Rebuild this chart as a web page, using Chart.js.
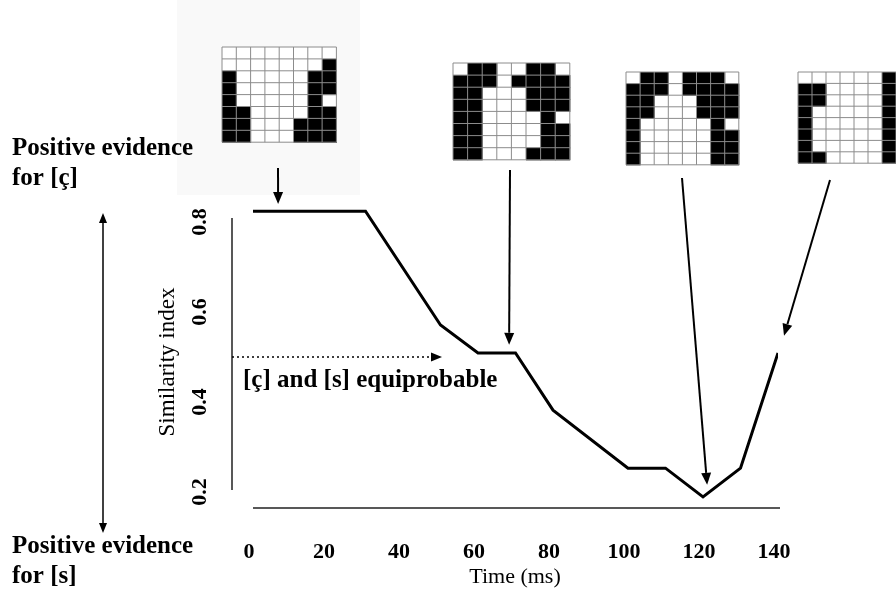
<!DOCTYPE html>
<html>
<head>
<meta charset="utf-8">
<script src="https://cdn.jsdelivr.net/npm/chart.js@4.4.1/dist/chart.umd.min.js"></script>
<style>
  html, body { margin: 0; padding: 0; background: #fff; }
  #wrap { width: 896px; height: 594px; position: relative; }
</style>
</head>
<body>
<div id="wrap"><canvas id="simChart"></canvas></div>
<script>
// corners of the similarity curve: time (ms) and similarity index
const timeMs = [0, 30, 50, 60, 70, 80, 100, 110, 120, 130, 140];
const similarity = [0.824, 0.824, 0.571, 0.509, 0.509, 0.382, 0.253, 0.253, 0.189, 0.253, 0.509];
const xTicks = [0, 20, 40, 60, 80, 100, 120, 140];
const yTicks = [0.2, 0.4, 0.6, 0.8];
const equiprobableLevel = 0.5;

// where the arrows from the four grids land, in data units
const arrowTipsMs = [6.7, 68.3, 121.1, 141.6];
const arrowTipsSim = [0.84, 0.527, 0.216, 0.547];

// the 8x8 grids above the curve, 1 = black cell
const grid1 = ['00000000', '00000001', '10000011', '10000011', '10000010', '11000011', '11000111', '11000111'];
const grid2 = ['01100110', '11101111', '11000111', '11000111', '11000010', '11000011', '11000011', '11000111'];
const grid3 = ['01101110', '11101111', '11000111', '11000111', '10000010', '10000011', '10000011', '10000011'];
const grid4 = ['00000010', '11000010', '11000010', '10000010', '10000010', '10000010', '10000010', '11000010'];

const SERIF = '"Liberation Serif", "DejaVu Serif", serif';

function drawGrid(ctx, rows, x, y, cw, ch) {
    const n = rows[0].length;
    ctx.fillStyle = '#fff';
    ctx.fillRect(x, y, n * cw, rows.length * ch);
    ctx.fillStyle = '#000';
    rows.forEach((row, r) => {
        for (let c = 0; c < n; c++) {
            if (row[c] === '1') ctx.fillRect(x + c * cw, y + r * ch, cw + 0.5, ch + 0.5);
        }
    });
    ctx.strokeStyle = '#8c8c8c';
    ctx.lineWidth = 1;
    ctx.beginPath();
    for (let c = 0; c <= n; c++) {
        ctx.moveTo(x + c * cw, y);
        ctx.lineTo(x + c * cw, y + rows.length * ch);
    }
    for (let r = 0; r <= rows.length; r++) {
        ctx.moveTo(x, y + r * ch);
        ctx.lineTo(x + n * cw, y + r * ch);
    }
    ctx.stroke();
}

function drawArrow(ctx, x1, y1, x2, y2, opts = {}) {
    const head = opts.head || 11;
    const half = opts.half || 4.5;
    const ang = Math.atan2(y2 - y1, x2 - x1);
    const bx = x2 - head * Math.cos(ang);
    const by = y2 - head * Math.sin(ang);
    ctx.save();
    ctx.strokeStyle = '#000';
    ctx.fillStyle = '#000';
    ctx.lineWidth = opts.width || 2;
    if (opts.dash) ctx.setLineDash(opts.dash);
    ctx.beginPath();
    ctx.moveTo(x1, y1);
    ctx.lineTo(bx, by);
    ctx.stroke();
    ctx.setLineDash([]);
    ctx.beginPath();
    ctx.moveTo(x2, y2);
    ctx.lineTo(bx + half * Math.sin(ang), by - half * Math.cos(ang));
    ctx.lineTo(bx - half * Math.sin(ang), by + half * Math.cos(ang));
    ctx.closePath();
    ctx.fill();
    ctx.restore();
}

function rotatedText(ctx, text, x, y, font) {
    ctx.save();
    ctx.translate(x, y);
    ctx.rotate(-Math.PI / 2);
    ctx.font = font;
    ctx.textAlign = 'center';
    ctx.textBaseline = 'middle';
    ctx.fillText(text, 0, 0);
    ctx.restore();
}

const figurePlugin = {
    id: 'figure',
    beforeDraw(chart) {
        const ctx = chart.ctx;
        ctx.save();
        ctx.fillStyle = '#fff';
        ctx.fillRect(0, 0, chart.width, chart.height);
        // very faint scan background behind the first grid
        ctx.fillStyle = '#f9f9f9';
        ctx.fillRect(177, 0, 183, 195);
        ctx.restore();
    },
    afterDraw(chart) {
        const ctx = chart.ctx;
        const xs = chart.scales.x;
        const ys = chart.scales.y;
        ctx.save();

        drawGrid(ctx, grid1, 222, 47, 14.3, 11.9);
        drawGrid(ctx, grid2, 453, 63, 14.6, 12.1);
        drawGrid(ctx, grid3, 626, 72, 14.1, 11.6);
        drawGrid(ctx, grid4, 798, 72, 14, 11.4);

        // axis lines, drawn apart from the curve as in the figure
        ctx.strokeStyle = '#222';
        ctx.lineWidth = 1.5;
        ctx.beginPath();
        const axisX = xs.left - 21;
        ctx.moveTo(axisX, ys.getPixelForValue(yTicks[yTicks.length - 1]) - 4);
        ctx.lineTo(axisX, ys.getPixelForValue(yTicks[0]) - 2);
        const axisY = ys.bottom - 6.5;
        ctx.moveTo(xs.getPixelForValue(xTicks[0]), axisY);
        ctx.lineTo(xs.getPixelForValue(xTicks[xTicks.length - 1]) + 2, axisY);
        ctx.stroke();

        // y tick labels, rotated
        ctx.fillStyle = '#000';
        yTicks.forEach(v => {
            rotatedText(ctx, v.toFixed(1), 200, ys.getPixelForValue(v), 'bold 22px ' + SERIF);
        });
        rotatedText(ctx, 'Similarity index', 168, 362, '23px ' + SERIF);

        // x axis title
        ctx.font = '22px ' + SERIF;
        ctx.textAlign = 'center';
        ctx.textBaseline = 'alphabetic';
        ctx.fillText('Time (ms)', 515, 583);

        // equiprobable marker
        const eqY = ys.getPixelForValue(equiprobableLevel);
        drawArrow(ctx, axisX, eqY, 442, eqY, { width: 1.5, dash: [2, 3], head: 11, half: 4.5 });
        ctx.font = 'bold 25px ' + SERIF;
        ctx.textAlign = 'left';
        ctx.fillText('[ç] and [s] equiprobable', 243, 387);

        // evidence labels and double arrow
        ctx.fillText('Positive evidence', 12, 155);
        ctx.fillText('for [ç]', 12, 185);
        ctx.fillText('Positive evidence', 12, 553);
        ctx.fillText('for [s]', 12, 583);
        drawArrow(ctx, 103, 373, 103, 213, { width: 1.5, head: 10, half: 4 });
        drawArrow(ctx, 103, 373, 103, 533, { width: 1.5, head: 10, half: 4 });

        // arrows from the grids to the curve
        const starts = [[278, 168], [510, 170], [682, 178], [830, 180]];
        starts.forEach((s, i) => {
            const tx = xs.getPixelForValue(arrowTipsMs[i]);
            const ty = ys.getPixelForValue(arrowTipsSim[i]);
            drawArrow(ctx, s[0], s[1], tx, ty, { width: 2, head: 12, half: 5 });
        });

        ctx.restore();
    }
};

new Chart(document.getElementById('simChart'), {
    type: 'line',
    data: {
        datasets: [{
            label: 'Similarity index',
            data: timeMs.map((t, i) => ({ x: t, y: similarity[i] })),
            borderColor: '#000',
            borderWidth: 3,
            pointRadius: 0,
            tension: 0,
            fill: false
        }]
    },
    options: {
        responsive: true,
        maintainAspectRatio: false,
        animation: false,
        events: [],
        devicePixelRatio: 1,
        layout: { padding: { left: 253, right: 118, top: 199.5, bottom: 0 } },
        plugins: { legend: { display: false }, tooltip: { enabled: false } },
        scales: {
            x: {
                type: 'linear',
                min: 0,
                max: 140,
                grid: { display: false, drawTicks: false },
                border: { display: false },
                afterBuildTicks: (scale) => { scale.ticks = xTicks.map(v => ({ value: v })); },
                afterFit: (scale) => { scale.height = 79.5; },
                ticks: {
                    autoSkip: false,
                    maxRotation: 0,
                    padding: 25,
                    labelOffset: -4,
                    color: '#000',
                    font: { family: SERIF, size: 22, weight: 'bold' }
                }
            },
            y: {
                type: 'linear',
                display: false,
                min: 0.15,
                max: 0.85
            }
        }
    },
    plugins: [figurePlugin]
});
</script>
</body>
</html>
